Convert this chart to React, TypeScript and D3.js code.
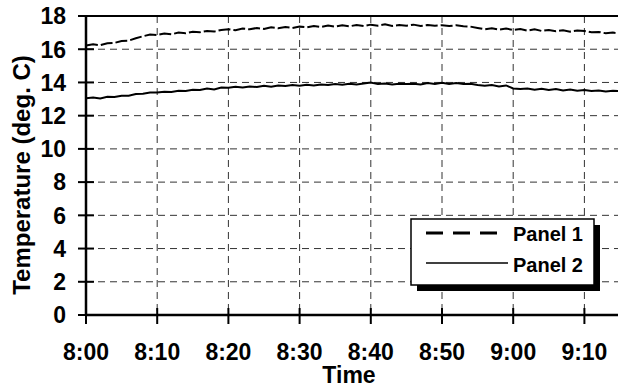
import React from "react";
import * as d3 from "d3";

const minutes: number[] = d3.range(0, 76);
const panel1: number[] = [
  16.22, 16.3, 16.24, 16.36, 16.38, 16.5, 16.52, 16.66, 16.78, 16.88, 16.86,
  16.95, 16.9, 17.0, 16.96, 17.05, 17.02, 17.1, 17.06, 17.16, 17.2,
  17.14, 17.24, 17.2, 17.28, 17.22, 17.32, 17.26, 17.34, 17.28, 17.36,
  17.32, 17.4, 17.34, 17.42, 17.36, 17.44, 17.38, 17.46, 17.4, 17.48,
  17.42, 17.5, 17.4, 17.46, 17.42, 17.48, 17.4, 17.46, 17.42, 17.45,
  17.4, 17.44, 17.38, 17.36, 17.28, 17.2, 17.26, 17.18, 17.24, 17.16,
  17.22, 17.12, 17.2, 17.1, 17.16, 17.08, 17.14, 17.06, 17.12, 17.1,
  17.02, 17.04, 16.96, 17.0, 16.95,
];
const panel2: number[] = [
  13.05, 13.1, 13.04, 13.14, 13.12, 13.2, 13.2, 13.3, 13.32, 13.4, 13.4,
  13.44, 13.42, 13.5, 13.48, 13.56, 13.54, 13.64, 13.58, 13.7, 13.68,
  13.74, 13.7, 13.76, 13.72, 13.8, 13.74, 13.82, 13.78, 13.84, 13.8,
  13.86, 13.82, 13.88, 13.84, 13.9, 13.86, 13.92, 13.88, 13.94, 14.0,
  13.9, 13.94, 13.88, 13.92, 13.9, 13.92, 13.88, 13.96, 13.9, 13.98,
  13.9, 13.96, 13.9, 13.92, 13.84, 13.8, 13.84, 13.76, 13.82, 13.64,
  13.6, 13.64, 13.56, 13.62, 13.54, 13.6, 13.52, 13.58, 13.5, 13.54,
  13.48, 13.52, 13.46, 13.5, 13.47,
];
const xTickLabels: string[] = ["8:00", "8:10", "8:20", "8:30", "8:40", "8:50", "9:00", "9:10"];
const yTicks: number[] = [0, 2, 4, 6, 8, 10, 12, 14, 16, 18];
const seriesNames: string[] = ["Panel 1", "Panel 2"];

const W = 618;
const H = 387;
const FONT = "'Liberation Sans', Arial, sans-serif";

export default function App() {
  const left = 86;
  const top = 16;
  const bottom = 315;
  const x = d3.scaleLinear().domain([0, 75]).range([left, 620]);
  const y = d3.scaleLinear().domain([0, 18]).range([bottom, top]);
  const line = d3
    .line<[number, number]>()
    .x((d) => x(d[0]))
    .y((d) => y(d[1]));
  const p1 = line(minutes.map((m, i) => [m, panel1[i]]))!;
  const p2 = line(minutes.map((m, i) => [m, panel2[i]]))!;
  const xTicks = xTickLabels.map((_, i) => i * 10);

  const lg = { x: 411, y: 219, w: 183, h: 66 };

  return (
    <svg
      width={W}
      height={H}
      style={{ position: "absolute", left: 0, top: 0, background: "#fff" }}
      fontFamily={FONT}
      fontWeight="bold"
    >
      <rect width={W} height={H} fill="#fff" />
      {yTicks
        .filter((t) => t > 0 && t < 18)
        .map((t) => (
          <line key={"gy" + t} x1={left} x2={W} y1={y(t)} y2={y(t)} stroke="#333" strokeWidth={1} strokeDasharray="7,5" />
        ))}
      {xTicks
        .filter((t) => t > 0)
        .map((t) => (
          <line key={"gx" + t} x1={x(t)} x2={x(t)} y1={top} y2={bottom} stroke="#333" strokeWidth={1} strokeDasharray="7,5" />
        ))}
      <path d={p1} fill="none" stroke="#000" strokeWidth={2} strokeDasharray="12,3" />
      <path d={p2} fill="none" stroke="#000" strokeWidth={2} />
      <line x1={left} x2={W} y1={top} y2={top} stroke="#000" strokeWidth={2} />
      <line x1={left} x2={left} y1={top} y2={bottom} stroke="#000" strokeWidth={2.5} />
      <line x1={left} x2={W} y1={bottom} y2={bottom} stroke="#000" strokeWidth={2.5} />
      {yTicks.map((t) => (
        <g key={"yt" + t}>
          <line x1={left - 8} x2={left + 8} y1={y(t)} y2={y(t)} stroke="#000" strokeWidth={2} />
          <text x={66} y={y(t)} dy="0.36em" textAnchor="end" fontSize={23}>
            {t}
          </text>
        </g>
      ))}
      {xTicks.map((t, i) => (
        <g key={"xt" + t}>
          <line x1={x(t)} x2={x(t)} y1={bottom - 7} y2={bottom + 9} stroke="#000" strokeWidth={2} />
          <text x={x(t)} y={360} textAnchor="middle" fontSize={23}>
            {xTickLabels[i]}
          </text>
        </g>
      ))}
      <text x={x(37.5) - 4} y={383} textAnchor="middle" fontSize={23}>
        Time
      </text>
      <text transform="translate(30,175) rotate(-90)" textAnchor="middle" fontSize={24}>
        Temperature (deg. C)
      </text>
      <rect x={lg.x + 6} y={lg.y + 6} width={lg.w} height={lg.h} fill="#000" />
      <rect x={lg.x} y={lg.y} width={lg.w} height={lg.h} fill="#fff" stroke="#000" strokeWidth={1.5} />
      <line x1={426} x2={502} y1={233} y2={233} stroke="#000" strokeWidth={3} strokeDasharray="17,10" />
      <line x1={426} x2={508} y1={263} y2={263} stroke="#000" strokeWidth={1.5} />
      <text x={583} y={241} textAnchor="end" fontSize={20}>
        {seriesNames[0]}
      </text>
      <text x={583} y={272} textAnchor="end" fontSize={20}>
        {seriesNames[1]}
      </text>
    </svg>
  );
}
